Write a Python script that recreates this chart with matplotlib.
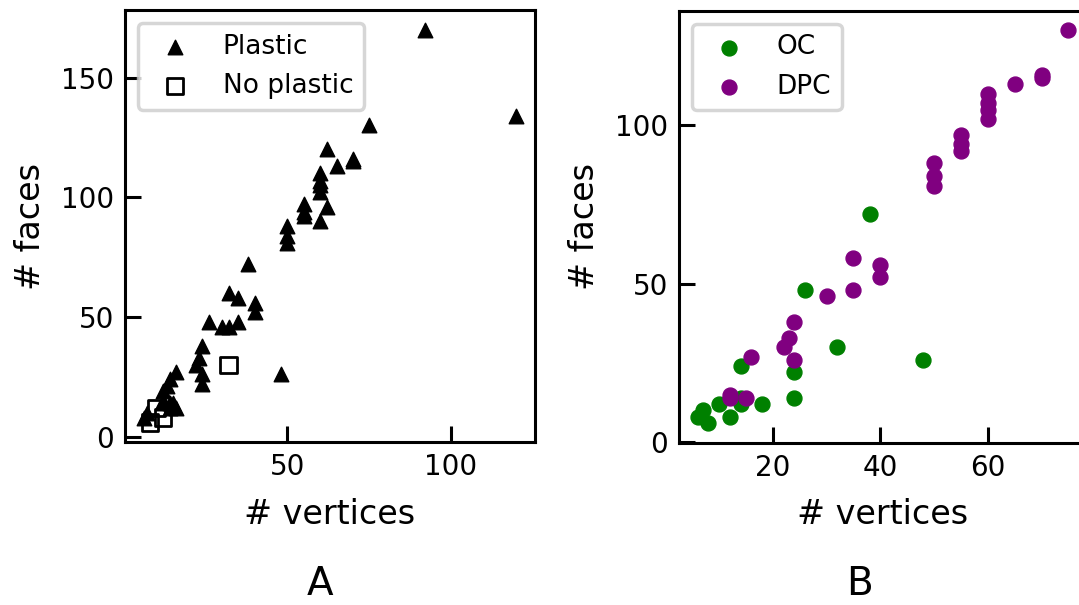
import matplotlib
matplotlib.use('Agg')
import matplotlib.pyplot as plt

# panel A: plastic / no plastic
plastic_v = [6, 7, 12, 12, 14, 14, 15, 16, 12, 13, 14, 16,
             22, 23, 24, 24, 24,
             26, 30, 32, 35, 32, 35, 40, 40, 38, 48,
             50, 50, 50, 55, 55, 55, 60, 60, 60, 60, 60, 62, 62, 65, 70, 70, 75, 92, 120]
plastic_f = [8, 10, 14, 15, 12, 14, 14, 12, 19, 21, 24, 27,
             30, 33, 38, 26, 22,
             48, 46, 46, 48, 60, 58, 56, 52, 72, 26,
             88, 84, 81, 97, 94, 92, 110, 107, 105, 102, 90, 96, 120, 113, 116, 115, 130, 170, 134]
noplastic_v = [8, 10, 12, 32]
noplastic_f = [6, 12, 8, 30]

# panel B: OC / DPC
oc_v = [6, 7, 8, 10, 12, 14, 14, 14, 18, 24, 24, 26, 32, 38, 48]
oc_f = [8, 10, 6, 12, 8, 12, 14, 24, 12, 14, 22, 48, 30, 72, 26]
dpc_v = [12, 12, 15, 16, 22, 23, 24, 24, 30, 35, 35, 40, 40,
         50, 50, 50, 55, 55, 55, 60, 60, 60, 60, 65, 70, 70, 75]
dpc_f = [14, 15, 14, 27, 30, 33, 26, 38, 46, 48, 58, 56, 52,
         88, 84, 81, 97, 94, 92, 110, 107, 105, 102, 113, 116, 115, 130]

W, H = 1079, 605
fig = plt.figure(figsize=(W / 100, H / 100), dpi=100)

ax1 = fig.add_axes([125 / W, 1 - 442 / H, 410 / W, 432 / H])
ax2 = fig.add_axes([679 / W, 1 - 442.7 / H, 408 / W, 432 / H])

ax1.scatter(plastic_v, plastic_f, marker='^', s=110, c='black', label='Plastic')
ax1.scatter(noplastic_v, noplastic_f, marker='s', s=140, facecolors='none',
            edgecolors='black', linewidths=2, label='No plastic')

ax2.scatter(oc_v, oc_f, s=115, c='green', label='OC')
ax2.scatter(dpc_v, dpc_f, s=115, c='purple', label='DPC')

ax1.set_xticks([50, 100])
ax1.set_yticks([0, 50, 100, 150])
ax2.set_xticks([20, 40, 60])
ax2.set_yticks([0, 50, 100])

for ax in (ax1, ax2):
    for sp in ax.spines.values():
        sp.set_linewidth(2.2)
    ax.tick_params(direction='in', length=11.5, width=2.2, labelsize=20, pad=8)
    ax.set_xlabel('# vertices', fontsize=24, labelpad=12)
    ax.set_ylabel('# faces', fontsize=24, labelpad=10)
    leg = ax.legend(loc='upper left', fontsize=19)
    leg.get_frame().set_linewidth(2.5)

ax1.set_xlim(0.3, 125.7)
ax1.set_ylim(-2.2, 178.2)
ax2.set_xlim(2.55, 78.45)
ax2.set_ylim(-0.2, 136.2)

fig.text(320 / W, 1 - 584 / H, 'A', fontsize=28, ha='center', va='center')
fig.text(860 / W, 1 - 584 / H, 'B', fontsize=28, ha='center', va='center')

fig.savefig('out.png', dpi=100)
